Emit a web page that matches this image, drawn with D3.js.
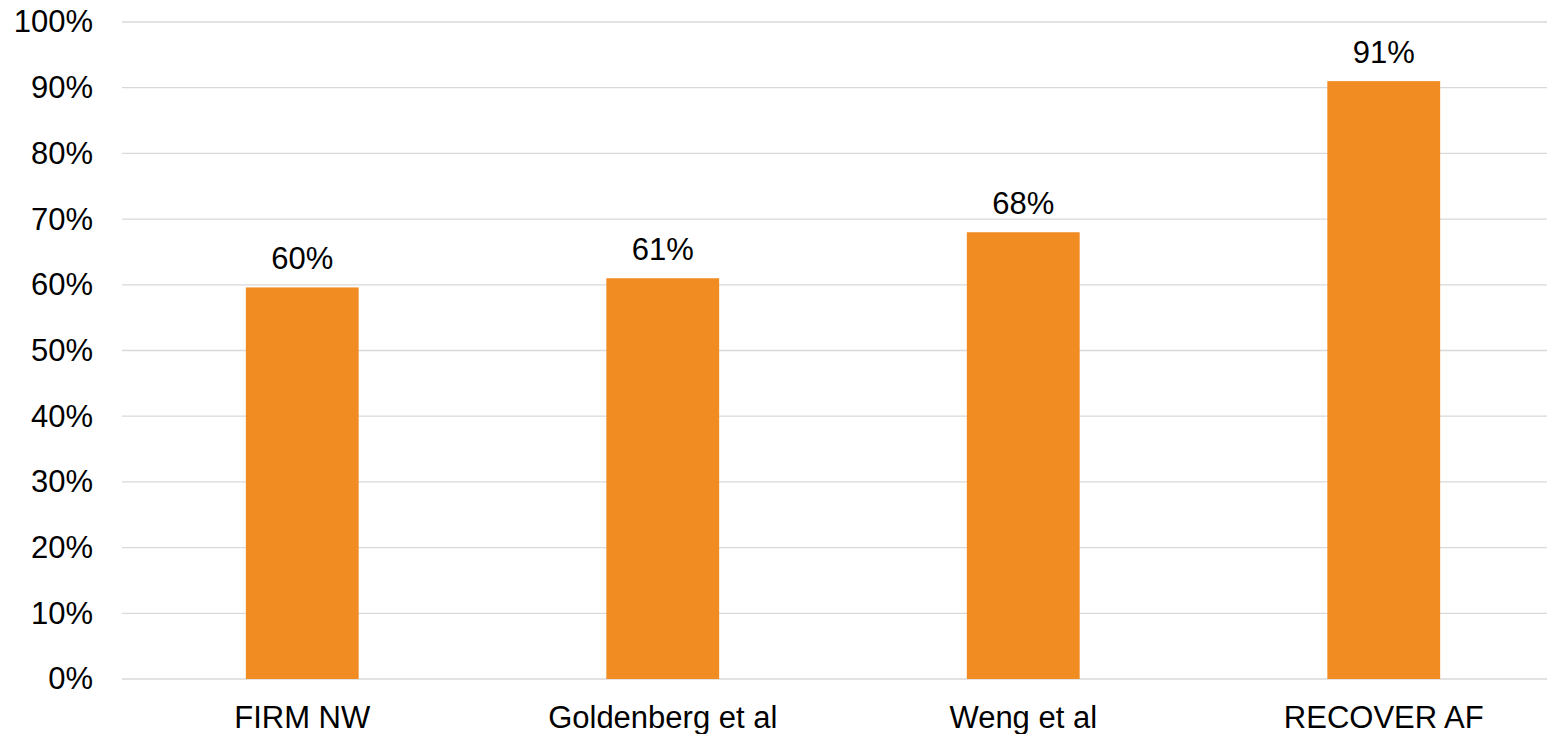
<!DOCTYPE html>
<html>
<head>
<meta charset="utf-8">
<script src="https://cdn.jsdelivr.net/npm/d3@7/dist/d3.min.js"></script>
<style>
  html, body { margin: 0; padding: 0; background: #ffffff; overflow: hidden; }
  svg { display: block; }
  text { font-family: "Liberation Sans", Arial, sans-serif; fill: #000000; }
</style>
</head>
<body>
<svg id="chart" width="1547" height="734"></svg>
<script>
// Study names and the share reported by each
const categories = ["FIRM NW", "Goldenberg et al", "Weng et al", "RECOVER AF"];
const values = [0.596, 0.61, 0.68, 0.91];
const yTicks = [0, 0.1, 0.2, 0.3, 0.4, 0.5, 0.6, 0.7, 0.8, 0.9, 1.0];

const svg = d3.select("#chart");
const plotLeft = 122, plotRight = 1564, plotTop = 22, plotBottom = 679;
const fontSize = 31;

const x = d3.scaleBand()
  .domain(categories)
  .range([plotLeft, plotRight])
  .paddingInner(0.687)
  .paddingOuter(0.3435);

const y = d3.scaleLinear().domain([0, 1]).range([plotBottom, plotTop]);
const pct = d3.format(".0%");

// Horizontal gridlines
svg.append("g")
  .selectAll("line")
  .data(yTicks)
  .join("line")
  .attr("x1", plotLeft)
  .attr("x2", plotRight)
  .attr("y1", d => y(d))
  .attr("y2", d => y(d))
  .attr("stroke", "#d9d9d9")
  .attr("stroke-width", 1.3);

// Y axis tick labels
const yAxis = d3.axisLeft(y).tickValues(yTicks).tickFormat(pct).tickSize(0).tickPadding(29);
svg.append("g")
  .attr("transform", `translate(${plotLeft},0)`)
  .call(yAxis)
  .call(g => g.select(".domain").remove())
  .call(g => g.selectAll("text")
    .attr("font-size", fontSize)
    .attr("font-family", "Liberation Sans, Arial, sans-serif")
    .attr("fill", "#000"));

// Bars
svg.append("g")
  .selectAll("rect")
  .data(values)
  .join("rect")
  .attr("x", (d, i) => x(categories[i]))
  .attr("width", x.bandwidth())
  .attr("y", d => y(d))
  .attr("height", d => y(0) - y(d))
  .attr("fill", "#f18c22");

// Value labels above bars
svg.append("g")
  .selectAll("text")
  .data(values)
  .join("text")
  .attr("x", (d, i) => x(categories[i]) + x.bandwidth() / 2)
  .attr("y", d => y(d) - 18)
  .attr("text-anchor", "middle")
  .attr("font-size", fontSize)
  .text(d => pct(d));

// Category labels
const xAxis = d3.axisBottom(x).tickSize(0).tickPadding(27);
svg.append("g")
  .attr("transform", `translate(0,${plotBottom})`)
  .call(xAxis)
  .call(g => g.select(".domain").remove())
  .call(g => g.selectAll("text")
    .attr("font-size", fontSize)
    .attr("font-family", "Liberation Sans, Arial, sans-serif")
    .attr("fill", "#000"));
</script>
</body>
</html>
